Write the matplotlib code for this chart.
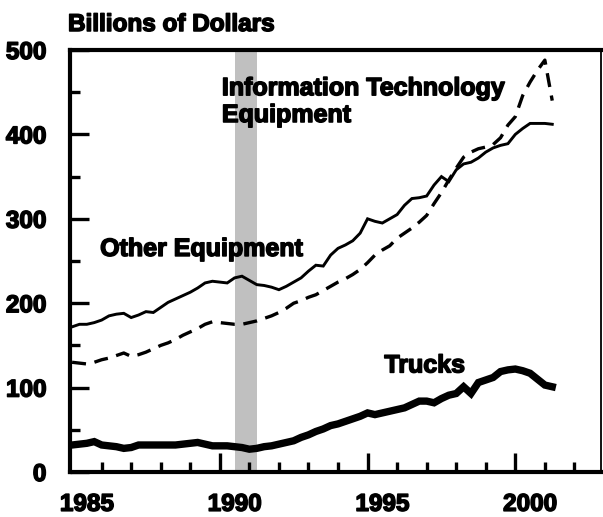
import numpy as np
import matplotlib
matplotlib.use("Agg")
import matplotlib.pyplot as plt
import matplotlib.patheffects as pe

plt.rcParams['font.family'] = ['Liberation Sans', 'DejaVu Sans']
plt.rcParams['font.weight'] = 'bold'

# quarterly, 1985Q1 .. 2001Q2 (billions of dollars)
quarters = 1985 + np.arange(66) / 4.0

other_equipment = [172, 175, 175, 177, 180, 185, 187, 188, 183, 186, 190, 189,
                   195, 201, 205, 209, 213, 218, 224, 226, 225, 224, 230, 232,
                   227, 222, 221, 219, 216, 220, 225, 230, 238, 245, 244, 257,
                   265, 269, 274, 283, 300, 297, 295, 300, 305, 316, 324, 325,
                   327, 340, 350, 344, 358, 365, 367, 372, 379, 384, 387, 389,
                   400, 407, 413, 413, 413, 412]

info_tech = [130, 129, 128, 130, 133, 135, 138, 141, 137, 139, 142, 146,
             150, 153, 157, 162, 166, 170, 175, 178, 177, 176, 175, 175,
             177, 179, 182, 185, 189, 194, 200, 203, 207, 210, 215, 220,
             225, 229, 234, 240, 248, 257, 263, 268, 277, 283, 289, 296,
             304, 318, 331, 346, 360, 373, 379, 383, 385, 388, 396, 411,
             421, 446, 462, 476, 488, 440]

trucks = [32, 33, 34, 36, 32, 31, 30, 28, 29, 32, 32, 32,
          32, 32, 32, 33, 34, 35, 33, 31, 31, 31, 30, 29,
          27, 28, 30, 31, 33, 35, 37, 41, 44, 48, 51, 55,
          57, 60, 63, 66, 70, 68, 70, 72, 74, 76, 80, 84,
          84, 82, 87, 91, 93, 101, 93, 106, 109, 112, 119, 121,
          122, 120, 117, 110, 103, 101]

recession = (1990.5, 1991.25)
year_labels = [1985, 1990, 1995, 2000]

# heavier lettering, like the original's black sans
heavy = [pe.withStroke(linewidth=1.1, foreground='black')]

fig = plt.figure(figsize=(6.03, 5.17), dpi=100, facecolor='white')
ax = fig.add_axes([70 / 603, 1 - 472 / 517, 531 / 603, 422 / 517])

ax.axvspan(recession[0], recession[1], color='#c0c0c0', lw=0, zorder=0)

ax.plot(quarters, other_equipment, color='black', lw=2.1, solid_joinstyle='miter')
ax.plot(quarters, info_tech, color='black', lw=2.4, dashes=(4.2, 2.6))
ax.plot(quarters, trucks, color='black', lw=5.3, solid_joinstyle='miter')

ax.set_xlim(1984.93, 2002.9)
ax.set_ylim(0, 500)

# ticks point inward
ax.set_xticks([1990, 1995, 2000])
ax.set_xticks(np.arange(1986, 2003), minor=True)
ax.set_xticklabels([])
ax.set_yticks(np.arange(0, 501, 100))
ax.set_yticks(np.arange(50, 500, 100), minor=True)
ax.tick_params(axis='both', which='major', direction='in', length=14, width=2.4)
ax.tick_params(axis='both', which='minor', direction='in', length=7, width=2.4)
ax.tick_params(axis='y', which='major', labelsize=17.5, pad=17)
for lbl in ax.get_yticklabels():
    lbl.set_path_effects(heavy)

# year labels sit in the middle of each year
sec = ax.secondary_xaxis('bottom')
sec.set_xticks([y + 0.5 for y in year_labels])
sec.set_xticklabels([str(y) for y in year_labels])
sec.tick_params(length=0, labelsize=17.5, pad=15)
sec.spines['bottom'].set_visible(False)
for lbl in sec.get_xticklabels():
    lbl.set_path_effects(heavy)

for s in ['left', 'bottom', 'top']:
    ax.spines[s].set_linewidth(3)
ax.spines['right'].set_linewidth(1.3)

fig.text(68 / 603, 1 - 31 / 517, 'Billions of Dollars', fontsize=17.5,
         ha='left', va='baseline', path_effects=heavy)

ax.text(1990.07, 469, 'Information Technology\nEquipment', fontsize=18,
        ha='left', va='top', linespacing=1.15, path_effects=heavy)
ax.text(1985.95, 256, 'Other Equipment', fontsize=18, ha='left', va='baseline',
        path_effects=heavy)
ax.text(1995.57, 118, 'Trucks', fontsize=18, ha='left', va='baseline',
        path_effects=heavy)

fig.savefig('out.png', dpi=100, facecolor='white')
